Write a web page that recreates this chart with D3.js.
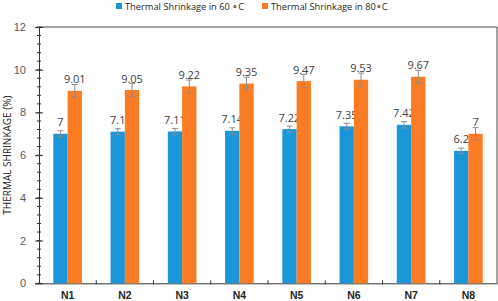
<!DOCTYPE html>
<html>
<head>
<meta charset="utf-8">
<script src="https://cdn.jsdelivr.net/npm/d3@7/dist/d3.min.js"></script>
<style>
  body { margin: 0; background: #fff; }
  svg { display: block; font-family: "Open Sans", "Liberation Sans", sans-serif; }
</style>
</head>
<body>
<div id="chart"></div>
<script>
// Sample names and the two series
var samples = ["N1", "N2", "N3", "N4", "N5", "N6", "N7", "N8"];
var shrink60 = [7, 7.1, 7.11, 7.14, 7.22, 7.35, 7.42, 6.2];
var shrink80 = [9.01, 9.05, 9.22, 9.35, 9.47, 9.53, 9.67, 7];
var err60 = [0.14, 0.14, 0.14, 0.14, 0.14, 0.14, 0.15, 0.13];
var err80 = [0.3, 0.3, 0.3, 0.3, 0.31, 0.31, 0.3, 0.29];
var seriesNames = ["Thermal Shrinkage in 60 \u2218C", "Thermal Shrinkage in 80\u2218C"];
var yTicks = [0, 2, 4, 6, 8, 10, 12];

var W = 498, H = 301;
var plotLeft = 39, plotRight = 497, plotTop = 27, plotBottom = 283.3;
var colors = ["#1b96d8", "#fb7c22"];

var svg = d3.select("#chart").append("svg")
    .attr("width", W)
    .attr("height", H);

var x = d3.scaleBand().domain(samples).range([plotLeft, plotRight]);
var sub = d3.scaleBand().domain([0, 1]).range([x.bandwidth() / 4, x.bandwidth() * 3 / 4]);
var y = d3.scaleLinear().domain([0, 12]).range([plotBottom, plotTop]);

// frame on top and right
svg.append("path")
    .attr("d", "M" + plotLeft + "," + plotTop + "H" + plotRight + "V" + plotBottom)
    .attr("fill", "none")
    .attr("stroke", "#444")
    .attr("stroke-width", 1);

// minor ticks on y axis
svg.append("g")
    .selectAll("line")
    .data(d3.range(0, 12.01, 0.4))
    .enter()
    .append("line")
    .attr("x1", plotLeft - 2).attr("x2", plotLeft + 2)
    .attr("y1", function (d) { return y(d); })
    .attr("y2", function (d) { return y(d); })
    .attr("stroke", "#333");

// Y axis
var yAxis = svg.append("g")
    .attr("transform", "translate(" + plotLeft + ",0)")
    .call(d3.axisLeft(y).tickValues(yTicks).tickSize(4).tickPadding(9));
yAxis.select(".domain").attr("stroke", "#333");
yAxis.selectAll(".tick line").attr("x2", 4).attr("x1", -4).attr("stroke", "#333");
yAxis.selectAll("text")
    .attr("fill", "#595959")
    .style("font-size", "11px");

// X axis
var xAxis = svg.append("g")
    .attr("transform", "translate(0," + plotBottom + ")")
    .call(d3.axisBottom(x).tickSize(0).tickPadding(8));
xAxis.select(".domain").attr("stroke", "#333");
xAxis.selectAll("text")
    .attr("fill", "#262626")
    .style("font-size", "10.5px")
    .style("font-weight", "600");
// category separator ticks
svg.append("g")
    .selectAll("line")
    .data(samples.slice(1))
    .enter()
    .append("line")
    .attr("x1", function (d) { return x(d); })
    .attr("x2", function (d) { return x(d); })
    .attr("y1", plotBottom - 3)
    .attr("y2", plotBottom + 1)
    .attr("stroke", "#333");

// axis title
svg.append("text")
    .attr("transform", "translate(10.5," + ((plotTop + plotBottom) / 2) + ") rotate(-90)")
    .attr("text-anchor", "middle")
    .attr("fill", "#262626")
    .style("font-size", "10px")
    .text("THERMAL SHRINKAGE (%)");

// bars, error bars and labels for each series
var series = [shrink60, shrink80];
var errs = [err60, err80];
series.forEach(function (vals, s) {
    var g = svg.append("g");
    g.selectAll("rect")
        .data(vals)
        .enter()
        .append("rect")
        .attr("x", function (d, i) { return x(samples[i]) + sub(s); })
        .attr("y", function (d) { return y(d); })
        .attr("width", sub.bandwidth())
        .attr("height", function (d) { return plotBottom - y(d); })
        .attr("fill", colors[s]);

    var eb = g.selectAll(".err")
        .data(vals)
        .enter()
        .append("g")
        .attr("stroke", "#8c8c8c")
        .attr("stroke-width", 1);
    eb.append("line")
        .attr("x1", function (d, i) { return x(samples[i]) + sub(s) + sub.bandwidth() / 2; })
        .attr("x2", function (d, i) { return x(samples[i]) + sub(s) + sub.bandwidth() / 2; })
        .attr("y1", function (d, i) { return y(d + errs[s][i]); })
        .attr("y2", function (d, i) { return y(d - errs[s][i]); });
    [1, -1].forEach(function (sign) {
        eb.append("line")
            .attr("x1", function (d, i) { return x(samples[i]) + sub(s) + sub.bandwidth() / 2 - 3; })
            .attr("x2", function (d, i) { return x(samples[i]) + sub(s) + sub.bandwidth() / 2 + 3; })
            .attr("y1", function (d, i) { return y(d + sign * errs[s][i]); })
            .attr("y2", function (d, i) { return y(d + sign * errs[s][i]); });
    });

    g.selectAll("text")
        .data(vals)
        .enter()
        .append("text")
        .attr("x", function (d, i) { return x(samples[i]) + sub(s) + sub.bandwidth() / 2; })
        .attr("y", function (d) { return y(d) - 7.5; })
        .attr("text-anchor", "middle")
        .attr("fill", "#404040")
        .style("font-size", "11px")
        .text(function (d) { return d; });
});

// legend
var legendX = [116, 262];
seriesNames.forEach(function (name, s) {
    svg.append("rect")
        .attr("x", legendX[s]).attr("y", 3)
        .attr("width", 6).attr("height", 6)
        .attr("fill", colors[s]);
    svg.append("text")
        .attr("x", legendX[s] + 9).attr("y", 10)
        .attr("fill", "#262626")
        .style("font-size", "9.3px")
        .text(name);
});
</script>
</body>
</html>
